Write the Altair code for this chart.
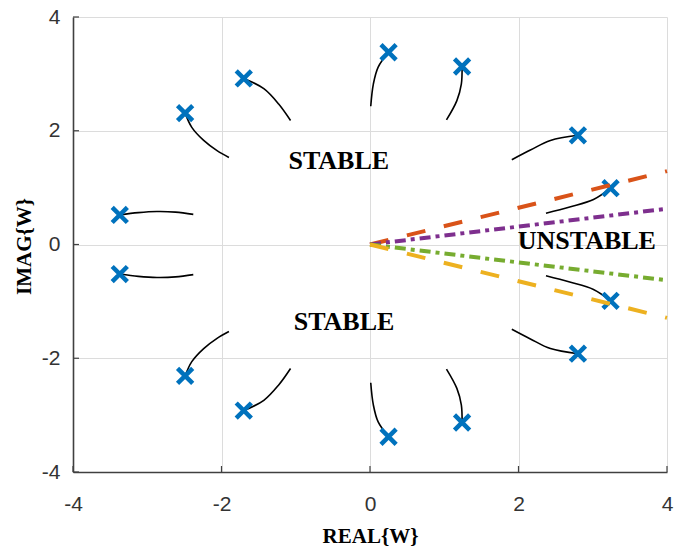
import altair as alt
import pandas as pd

# Root-locus branches (upper half-plane), listed from start point to the pole marker
branch_upper = {
    "u1": ([-2.38, -2.62, -2.87, -3.12, -3.37], [0.53, 0.57, 0.58, 0.56, 0.52]),
    "u2": ([-1.90, -2.06, -2.24, -2.40, -2.49], [1.53, 1.65, 1.83, 2.06, 2.31]),
    "u3": ([-1.07, -1.23, -1.43, -1.70], [2.18, 2.47, 2.74, 2.92]),
    "u4": ([0.01, 0.045, 0.11, 0.25], [2.43, 2.82, 3.12, 3.38]),
    "u5": ([1.03, 1.17, 1.23, 1.24], [2.19, 2.53, 2.82, 3.13]),
    "u6": ([1.91, 2.16, 2.43, 2.80], [1.49, 1.66, 1.83, 1.92]),
    "u7": ([2.37, 2.69, 3.01, 3.24], [0.55, 0.66, 0.79, 0.99]),
}
# Lower half-plane branches
branch_lower = {
    "l1": ([-2.38, -2.62, -2.87, -3.12, -3.37], [-0.53, -0.57, -0.58, -0.56, -0.52]),
    "l2": ([-1.90, -2.06, -2.24, -2.40, -2.49], [-1.53, -1.65, -1.83, -2.06, -2.31]),
    "l3": ([-1.07, -1.23, -1.43, -1.70], [-2.18, -2.47, -2.74, -2.92]),
    "l4": ([0.01, 0.045, 0.11, 0.25], [-2.43, -2.82, -3.12, -3.38]),
    "l5": ([1.03, 1.17, 1.23, 1.24], [-2.19, -2.53, -2.82, -3.13]),
    "l6": ([1.91, 2.16, 2.43, 2.80], [-1.49, -1.66, -1.83, -1.92]),
    "l7": ([2.37, 2.69, 3.01, 3.24], [-0.55, -0.66, -0.79, -0.99]),
}

# Pole locations (x markers)
pole_re = [-3.37, -2.49, -1.70, 0.25, 1.24, 2.80, 3.24,
           -3.37, -2.49, -1.70, 0.25, 1.24, 2.80, 3.24]
pole_im = [0.52, 2.31, 2.92, 3.38, 3.13, 1.92, 0.99,
           -0.52, -2.31, -2.92, -3.38, -3.13, -1.92, -0.99]

# Stability boundary rays from the origin
ray_names = ["orange", "purple", "green", "yellow"]
ray_end_re = [4.0, 4.0, 4.0, 4.0]
ray_end_im = [1.29, 0.63, -0.63, -1.29]
ray_colors = ["#D95319", "#7E2F8E", "#77AC30", "#EDB120"]
ray_dashes = [[19, 19], [11, 5, 4, 5], [11, 5, 4, 5], [19, 19]]

# Region labels
label_text = ["STABLE", "STABLE", "UNSTABLE"]
label_re = [-0.42, -0.35, 2.92]
label_im = [1.46, -1.36, 0.07]

tick_values = [-4, -2, 0, 2, 4]

W, H = 594, 455
AXIS_COLOR = "#404040"
TEXT_COLOR = "#333333"

rows = []
for name, (re, im) in {**branch_upper, **branch_lower}.items():
    for i, (a, b) in enumerate(zip(re, im)):
        rows.append({"branch": name, "k": i, "re": a, "im": b})
curves_df = pd.DataFrame(rows)
poles_df = pd.DataFrame({"re": pole_re, "im": pole_im})
labels_df = pd.DataFrame({"text": label_text, "re": label_re, "im": label_im})
ticks_df = pd.DataFrame({"re": tick_values, "im": tick_values})

xs = alt.Scale(domain=[-4, 4], nice=False, zero=False)
ys = alt.Scale(domain=[-4, 4], nice=False, zero=False)

x_axis = alt.Axis(
    values=tick_values, grid=True, gridColor="#dcdcdc", gridWidth=1,
    ticks=False, tickSize=0, domainColor=AXIS_COLOR, domainWidth=1.6,
    labelFont="Liberation Sans", labelFontSize=21, labelColor=TEXT_COLOR,
    labelPadding=21, labelExpr="'' + datum.value", labelFlush=False,
    title="REAL{W}", titleFont="Liberation Serif", titleFontSize=21,
    titleFontWeight="bold", titleColor="black", titleBaseline="alphabetic",
    titleY=70, titleX=W / 2,
)
y_axis = alt.Axis(
    values=tick_values, grid=True, gridColor="#dcdcdc", gridWidth=1,
    ticks=False, tickSize=0, domainColor=AXIS_COLOR, domainWidth=1.6,
    labelFont="Liberation Sans", labelFontSize=21, labelColor=TEXT_COLOR,
    labelPadding=13, labelExpr="'' + datum.value", labelFlush=False,
    title="IMAG{W}", titleFont="Liberation Serif", titleFontSize=21,
    titleFontWeight="bold", titleColor="black", titleBaseline="alphabetic",
    titleAngle=270, titleAlign="center", titleX=-43, titleY=229,
)


def xy():
    return dict(
        x=alt.X("re:Q", scale=xs, axis=x_axis),
        y=alt.Y("im:Q", scale=ys, axis=y_axis),
    )


curves = alt.Chart(curves_df).mark_line(
    color="black", strokeWidth=1.6, interpolate="catmull-rom"
).encode(**xy(), detail="branch:N", order="k:Q")

x_shape = "M-1,-1L1,1M-1,1L1,-1"
poles = alt.Chart(poles_df).mark_point(
    shape=x_shape, size=230, filled=False, stroke="#0072BD", strokeWidth=4.5,
    opacity=1,
).encode(**xy())

rays = []
for name, er, ei, col, dash in zip(ray_names, ray_end_re, ray_end_im, ray_colors, ray_dashes):
    df = pd.DataFrame({"re": [0.0, er], "im": [0.0, ei]})
    rays.append(
        alt.Chart(df).mark_line(
            color=col, strokeWidth=4, strokeDash=dash, strokeCap="butt"
        ).encode(**xy())
    )

labels = alt.Chart(labels_df).mark_text(
    font="Liberation Serif", fontSize=26, fontWeight="bold", color="black",
    align="center", baseline="middle",
).encode(**xy(), text="text:N")

# Inward-pointing tick marks on the left and bottom axes
x_ticks = alt.Chart(ticks_df).mark_rule(color=AXIS_COLOR, strokeWidth=1.2).encode(
    x=alt.X("re:Q", scale=xs, axis=x_axis),
    y=alt.value(H),
    y2=alt.value(H - 6),
)
y_ticks = alt.Chart(ticks_df).mark_rule(color=AXIS_COLOR, strokeWidth=1.2).encode(
    y=alt.Y("im:Q", scale=ys, axis=y_axis),
    x=alt.value(0),
    x2=alt.value(6),
)

chart = alt.layer(
    curves, poles, *rays, labels, x_ticks, y_ticks
).properties(
    width=W, height=H,
    autosize=alt.AutoSizeParams(type="none"),
    padding={"left": 73, "top": 17, "right": 8, "bottom": 79},
    background="white",
).configure_view(stroke=None)

chart.save("out.html", embed_options={"renderer": "svg", "actions": False})
